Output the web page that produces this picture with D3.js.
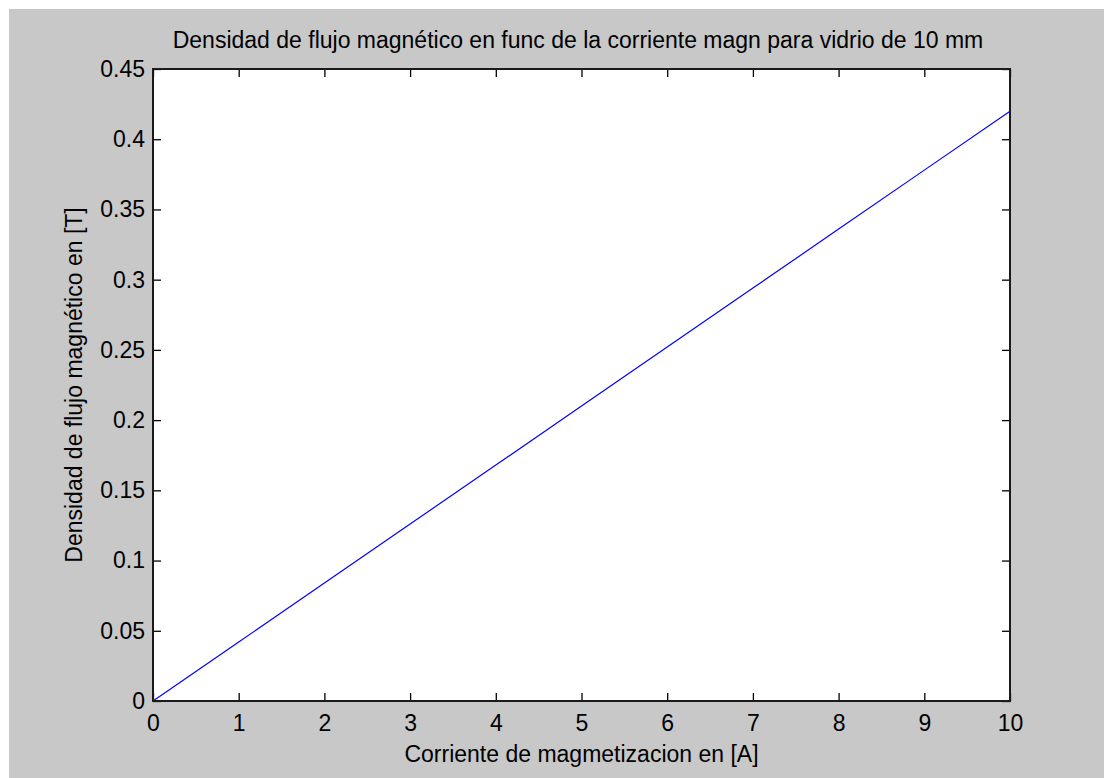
<!DOCTYPE html>
<html>
<head>
<meta charset="utf-8">
<script src="https://cdn.jsdelivr.net/npm/d3@7"></script>
<style>
  html, body { margin: 0; padding: 0; background: #ffffff; }
  svg { display: block; }
  text { font-family: "Liberation Sans", Arial, sans-serif; fill: #000; }
</style>
</head>
<body>
<svg id="chart" width="1104" height="778"></svg>
<script>
// Magnetic flux density vs. magnetising current (10 mm glass)
const corriente = [0, 1, 2, 3, 4, 5, 6, 7, 8, 9, 10];
const densidad  = [0, 0.042, 0.084, 0.126, 0.168, 0.21, 0.252, 0.294, 0.336, 0.378, 0.42];
const xTicks = [0, 1, 2, 3, 4, 5, 6, 7, 8, 9, 10];
const yTicks = [0, 0.05, 0.1, 0.15, 0.2, 0.25, 0.3, 0.35, 0.4, 0.45];

const titulo = "Densidad de flujo magnético en func de la corriente magn para vidrio de 10 mm";
const etiquetaX = "Corriente de magmetizacion en [A]";
const etiquetaY = "Densidad de flujo magnético en [T]";

const svg = d3.select("#chart");
const W = 1104, H = 778;
const m = { left: 153, right: 1010, top: 69, bottom: 701 };
const FS = "23px";

// figure background
svg.append("rect").attr("x", 9).attr("y", 9).attr("width", W - 9).attr("height", H - 9)
  .attr("fill", "#c8c8c8");

const x = d3.scaleLinear().domain([0, 10]).range([m.left, m.right]);
const y = d3.scaleLinear().domain([0, 0.45]).range([m.bottom, m.top]);

// axes area
svg.append("rect").attr("x", m.left).attr("y", m.top)
  .attr("width", m.right - m.left).attr("height", m.bottom - m.top)
  .attr("fill", "#ffffff");

const fmt = d => d3.format("~g")(d);
const tickLen = 8;

function styleAxis(g, hideText) {
  g.select(".domain").remove();
  g.selectAll(".tick line").attr("stroke", "#000").attr("stroke-width", 1.3);
  g.selectAll(".tick text").style("font-size", FS);
  if (hideText) g.selectAll(".tick text").remove();
}

svg.append("g").attr("transform", `translate(0,${m.bottom})`)
  .call(d3.axisBottom(x).tickValues(xTicks).tickFormat(fmt).tickSizeInner(-tickLen).tickSizeOuter(0).tickPadding(14))
  .call(g => styleAxis(g, false));
svg.append("g").attr("transform", `translate(0,${m.top})`)
  .call(d3.axisTop(x).tickValues(xTicks).tickSizeInner(-tickLen).tickSizeOuter(0))
  .call(g => styleAxis(g, true));
svg.append("g").attr("transform", `translate(${m.left},0)`)
  .call(d3.axisLeft(y).tickValues(yTicks).tickFormat(fmt).tickSizeInner(-tickLen).tickSizeOuter(0).tickPadding(8))
  .call(g => styleAxis(g, false));
svg.append("g").attr("transform", `translate(${m.right},0)`)
  .call(d3.axisRight(y).tickValues(yTicks).tickSizeInner(-tickLen).tickSizeOuter(0))
  .call(g => styleAxis(g, true));

// data line
svg.append("path").datum(corriente.map((c, i) => [c, densidad[i]]))
  .attr("fill", "none").attr("stroke", "#0000ff").attr("stroke-width", 1.2)
  .attr("d", d3.line().x(d => x(d[0])).y(d => y(d[1])));

// axes box
svg.append("rect").attr("x", m.left).attr("y", m.top)
  .attr("width", m.right - m.left).attr("height", m.bottom - m.top)
  .attr("fill", "none").attr("stroke", "#1a1a1a").attr("stroke-width", 2);

// texts
svg.append("text").attr("x", 578).attr("y", 48)
  .attr("text-anchor", "middle").style("font-size", FS).text(titulo);
svg.append("text").attr("x", (m.left + m.right) / 2).attr("y", 762)
  .attr("text-anchor", "middle").style("font-size", FS).text(etiquetaX);
svg.append("text").attr("transform", `translate(82,${(m.top + m.bottom) / 2}) rotate(-90)`)
  .attr("text-anchor", "middle").style("font-size", FS).text(etiquetaY);
</script>
</body>
</html>
